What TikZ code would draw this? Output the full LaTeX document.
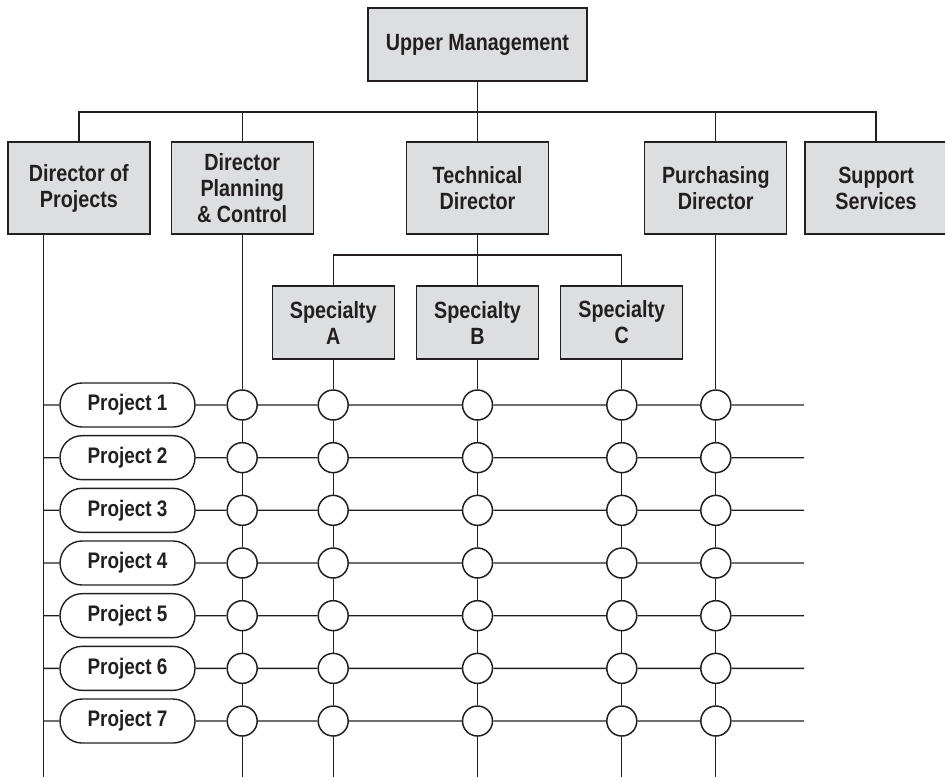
\documentclass[tikz,border=0pt]{standalone}
\usepackage{fontspec}
\newfontfamily\orgfont{Liberation Sans}[FakeStretch=0.84]
\usetikzlibrary{positioning, shapes.misc}
\definecolor{ink}{RGB}{35,31,32}
\definecolor{boxfill}{RGB}{221,222,223}
\tikzset{
  unit/.style={rectangle, draw=ink, line width=1.3pt, fill=boxfill, text=ink,
               align=center, inner sep=0pt,
               font=\orgfont\bfseries\fontsize{23.5}{26}\selectfont},
  director/.style={unit, minimum width=142pt, minimum height=92pt},
  specialty/.style={unit, minimum width=122pt, minimum height=73pt},
  project/.style={rounded rectangle, draw=ink, line width=1.4pt, text=ink,
                  minimum width=135pt, minimum height=44pt, inner sep=0pt,
                  font=\orgfont\bfseries\fontsize{22.5}{26}\selectfont},
  junction/.style={circle, draw=ink, line width=1.5pt, minimum size=30pt, inner sep=0pt},
  link/.style={draw=ink, line width=1.3pt},
}
\begin{document}
\begin{tikzpicture}[x=1pt, y=1pt, node distance=18pt]
  \useasboundingbox (0,0) rectangle (945,-777);
  \node[unit, minimum width=219pt, minimum height=73pt] (top) at (477.5,-44.5) {Upper Management};
  \node[director] (tech) at (477.5,-188) {Technical\\Director};
  \node[director, left=92pt of tech] (plan) {Director\\Planning\\\& Control};
  \node[director, left=20pt of plan] (dirp) {Director of\\Projects};
  \node[director, right=95pt of tech] (purch) {Purchasing\\Director};
  \node[director, right=17pt of purch] (supp) {Support\\Services};

  \node[specialty] (spB) at (477.5,-322.5) {Specialty\\B};
  \node[specialty, left=21pt of spB] (spA) {Specialty\\A};
  \node[specialty, right=21pt of spB] (spC) {Specialty\\C};

  \coordinate (bus) at (0,-112);
  \coordinate (sub) at (0,-255);
  \coordinate (bot) at (0,-777);
  \coordinate (rend) at (804,0);
  \coordinate (pl) at ([xshift=36pt]dirp.south west);

  \draw[link] (top) -- (tech);
  \draw[link] (dirp.north) |- (bus -| supp.north) -- (supp.north);
  \foreach \n in {plan, purch} \draw[link] (\n.north) -- (\n.north |- bus);
  \draw[link] (tech) -- (spB);
  \draw[link] (spA.north) |- (sub -| spC.north) -- (spC.north);

  \foreach \i in {1,...,7}
    \node[project] (p\i) at (127.5,{-405-52.67*(\i-1)}) {Project \i};

  \foreach \c in {plan, spA, spB, spC, purch} {
    \foreach \i in {1,...,7}
      \node[junction] (\c-\i) at (\c.south |- p\i) {};
    \draw[link] (\c) -- (\c-1);
    \foreach \i [evaluate=\i as \j using int(\i+1)] in {1,...,6}
      \draw[link] (\c-\i) -- (\c-\j);
    \draw[link] (\c-7) -- (\c-7 |- bot);
  }

  \draw[link] (pl) -- (pl |- bot);
  \foreach \i in {1,...,7}
    \draw[link] (pl |- p\i) -- (p\i) -- (plan-\i) -- (spA-\i) -- (spB-\i)
      -- (spC-\i) -- (purch-\i) -- (rend |- p\i);
\end{tikzpicture}
\end{document}
